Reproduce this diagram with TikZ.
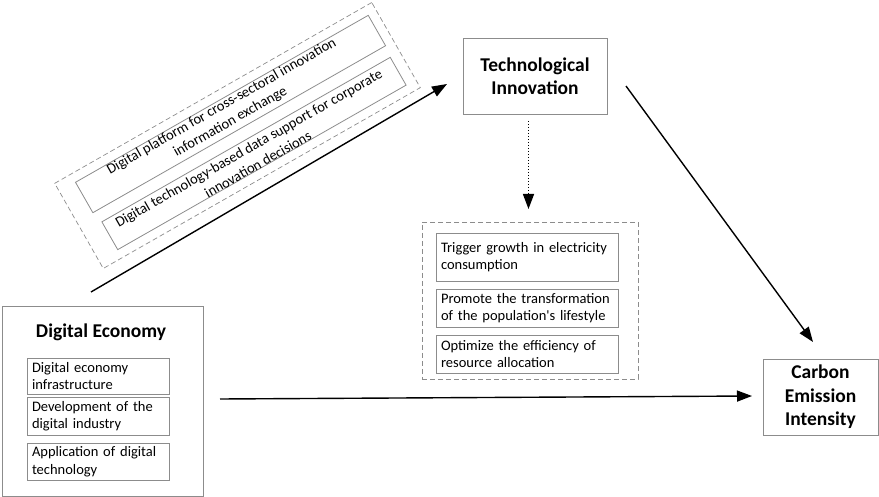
\documentclass[tikz,border=0pt]{standalone}
\usepackage{fontspec}
\setmainfont{Carlito}[Ligatures=TeXOff]
\usetikzlibrary{arrows.meta}
\definecolor{bgray}{RGB}{140,140,140}
\begin{document}
\begin{tikzpicture}[x=1pt,y=-1pt,
  box/.style={draw=bgray, line width=0.8pt, inner sep=0pt},
  dbox/.style={draw=bgray, line width=0.7pt, dash pattern=on 5pt off 3pt, inner sep=0pt},
  reg/.style={font=\fontsize{14.5}{17.5}\selectfont},
  titlef/.style={font=\fontsize{19.5}{23.5}\selectfont\bfseries, align=center},
  subbox/.style={box, reg, align=left, inner xsep=5pt, inner ysep=0pt},
  rot/.style={rotate=29.7},
  arr/.style={-{Triangle[length=15pt,width=11pt]}, line width=1.4pt},
  darr/.style={-{Triangle[length=15pt,width=11pt]}, line width=1.4pt, dash pattern=on 1.5pt off 1.5pt}
]
\path[use as bounding box] (0,0) rectangle (879,497);

% Technological Innovation
\node[box, titlef, minimum width=144pt, minimum height=76pt] (ti) at (535,76) {Technological\\Innovation};

% Carbon Emission Intensity
\node[box, titlef, minimum width=115pt, minimum height=76pt] (cei) at (820.5,397) {Carbon\\Emission\\Intensity};

% Digital Economy
\node[box, minimum width=201pt, minimum height=190pt] (de) at (102.5,401) {};
\node[font=\fontsize{19.5}{23}\selectfont\bfseries] (detitle) at (101,332) {Digital Economy};
\node[subbox, text width=132pt, minimum height=36pt] (de1) at (98,376) {Digital economy\\infrastructure};
\node[subbox, text width=132pt, minimum height=38pt] (de2) at (98,416) {Development of the\\digital industry};
\node[subbox, text width=132pt, minimum height=37pt] (de3) at (98,461.5) {Application of digital\\technology};

% Middle dashed group
\node[dbox, minimum width=216pt, minimum height=157pt] (mid) at (530,300.5) {};
\node[subbox, text width=172pt, minimum height=48pt] (m1) at (527,257) {Trigger growth in electricity\\consumption};
\node[subbox, text width=172pt, minimum height=38pt] (m2) at (527,308) {Promote the transformation\\of the population's lifestyle};
\node[subbox, text width=172pt, minimum height=38pt] (m3) at (527,354) {Optimize the efficiency of\\resource allocation};

% Rotated group
\begin{scope}[y=1pt]
\node[dbox, rot, minimum width=365pt, minimum height=98pt] (grp) at (237.5,-135.5) {};
\node[box, rot, minimum width=337pt, minimum height=35pt] (r1) at (230.55,-114.02) {};
\node[reg, rot, inner sep=0pt] (r1a) at (221.75,-106.7) {Digital platform for cross-sectoral innovation};
\node[reg, rot, inner sep=0pt] (r1b) at (230.4,-121.9) {information exchange};
\node[box, rot, minimum width=332pt, minimum height=32pt] (r2) at (253.98,-153.49) {};
\node[reg, rot, inner sep=0pt] (r2a) at (249.2,-149.1) {Digital technology-based data support for corporate};
\node[reg, rot, inner sep=0pt] (r2b) at (257.9,-164.3) {innovation decisions};
\end{scope}

% Arrow endpoints
\coordinate (a1s) at (91,292);
\coordinate (a1e) at (447,84);
\coordinate (a2s) at (220,399);
\coordinate (a2e) at (752,396);
\coordinate (a3s) at (626,86);
\coordinate (a3e) at (813,342);
\coordinate (a4s) at (528.5,121);
\coordinate (a4e) at (528.5,209);

\draw[arr] (a1s) -- (a1e);
\draw[arr] (a2s) -- (a2e);
\draw[arr] (a3s) -- (a3e);
\draw[darr] (a4s) -- (a4e);
\end{tikzpicture}
\end{document}
